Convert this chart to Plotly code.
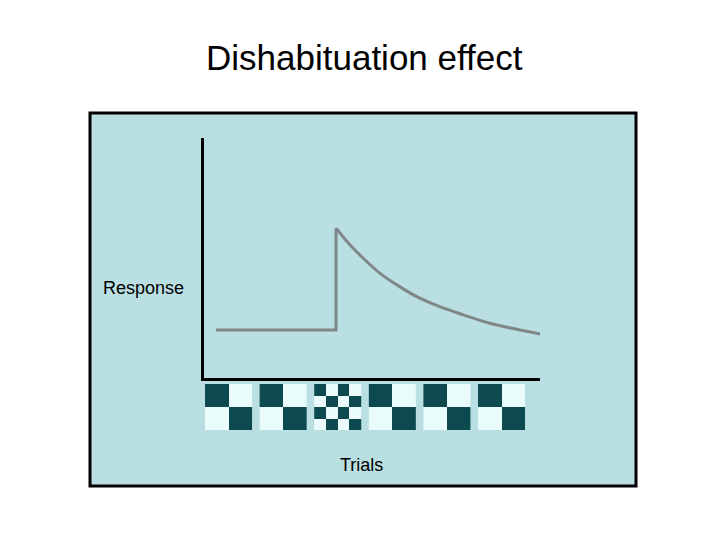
import plotly.graph_objects as go

W, H = 720, 540

# response curve (x: time 0-100, y: response 0-100)
baseline_x = [3.6, 39.3, 39.3]
baseline_y = [20.0, 20.0, 62.4]
recovery_x = [39.3, 43.5, 47.4, 52.4, 57.4, 63.3, 70.2, 77.2, 85.1, 93.1, 100.2]
recovery_y = [62.4, 55.4, 49.9, 43.6, 38.8, 33.9, 29.7, 26.3, 22.8, 20.3, 18.3]

# stimuli shown on each trial
trials = [1, 2, 3, 4, 5, 6]
patterns = ["coarse", "coarse", "fine", "coarse", "coarse", "coarse"]
checker_z = {
    "coarse": [[0, 1], [1, 0]],
    "fine": [[0, 1, 0, 1], [1, 0, 1, 0], [0, 1, 0, 1], [1, 0, 1, 0]],
}

PANEL = "#b9dfe3"
DARK = "#0c4a4f"
LIGHT = "#eafbfb"
LINE = "#7f8789"


def px_x(p):
    return p / W


def px_y(p):
    return 1 - p / H


fig = go.Figure()

fig.add_trace(go.Scatter(x=baseline_x, y=baseline_y, mode="lines",
                         line=dict(color=LINE, width=3), hoverinfo="skip"))
fig.add_trace(go.Scatter(x=recovery_x, y=recovery_y, mode="lines",
                         line=dict(color=LINE, width=3, shape="spline", smoothing=1),
                         hoverinfo="skip"))

cell_w = 0.86
for t, pat in zip(trials, patterns):
    z = checker_z[pat]
    n = len(z)
    fig.add_trace(go.Heatmap(
        z=z, x0=t - cell_w / 2 + cell_w / (2 * n), dx=cell_w / n,
        y0=0.5 / n, dy=1 / n,
        colorscale=[[0, LIGHT], [1, DARK]], zmin=0, zmax=1,
        showscale=False, hoverinfo="skip", xaxis="x2", yaxis="y2",
    ))

fig.update_layout(
    width=W, height=H,
    margin=dict(l=0, r=0, t=0, b=0),
    paper_bgcolor="white",
    plot_bgcolor="rgba(0,0,0,0)",
    showlegend=False,
    font=dict(family="Liberation Sans, Arial, sans-serif", color="black"),
    xaxis=dict(domain=[px_x(204), px_x(540)], range=[0, 100],
               showline=True, linecolor="black", linewidth=3,
               showgrid=False, zeroline=False, showticklabels=False, ticks=""),
    yaxis=dict(domain=[px_y(378), px_y(138)], range=[0, 100],
               showline=True, linecolor="black", linewidth=3,
               showgrid=False, zeroline=False, showticklabels=False, ticks=""),
    xaxis2=dict(domain=[px_x(204), px_x(540)], range=[0.551, 6.705], anchor="y2",
                showline=False, showgrid=False, zeroline=False,
                showticklabels=False, ticks=""),
    yaxis2=dict(domain=[px_y(430), px_y(384)], range=[0, 1], anchor="x2",
                showline=False, showgrid=False, zeroline=False,
                showticklabels=False, ticks=""),
    shapes=[dict(type="rect", xref="paper", yref="paper", layer="below",
                 x0=px_x(90), x1=px_x(636), y0=px_y(486), y1=px_y(113),
                 fillcolor=PANEL, line=dict(color="black", width=3))],
    annotations=[
        dict(text="Dishabituation effect", xref="paper", yref="paper",
             x=px_x(364), y=px_y(58), showarrow=False,
             font=dict(size=35), xanchor="center", yanchor="middle"),
        dict(text="Response", xref="paper", yref="paper",
             x=px_x(143), y=px_y(288), showarrow=False,
             font=dict(size=18), xanchor="center", yanchor="middle"),
        dict(text="Trials", xref="paper", yref="paper",
             x=px_x(361), y=px_y(465), showarrow=False,
             font=dict(size=18), xanchor="center", yanchor="middle"),
    ],
)

fig.write_html("out.html", config={"displayModeBar": False},
               post_script="document.body.style.margin='0';")
